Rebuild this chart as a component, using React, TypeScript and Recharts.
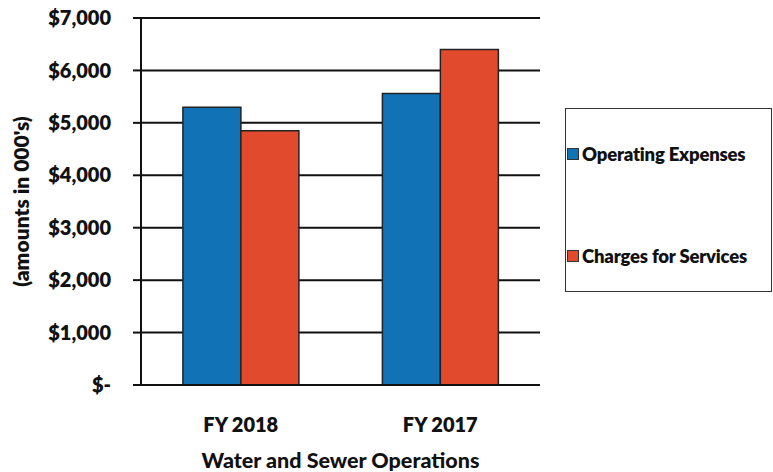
import { Bar, BarChart, CartesianGrid, XAxis, YAxis } from "recharts";

const years = ["FY 2018", "FY 2017"];
const operatingExpenses = [5300, 5560];
const chargesForServices = [4850, 6400];
const yTicks = [0, 1000, 2000, 3000, 4000, 5000, 6000, 7000];

const series = [
  { key: "ops", name: "Operating Expenses", color: "#1272b6" },
  { key: "charges", name: "Charges for Services", color: "#e24a2e" },
];

const data = years.map((year, i) => ({
  year,
  ops: operatingExpenses[i],
  charges: chargesForServices[i],
}));

const FONT = "Lato, 'Open Sans', sans-serif";

const fmt = (v: number) => (v === 0 ? "$-" : `$${v.toLocaleString("en-US")}`);

function LegendBox() {
  return (
    <div
      style={{
        position: "absolute",
        left: 565,
        top: 108,
        width: 207,
        height: 184,
        border: "1.5px solid #333",
        boxSizing: "border-box",
        fontFamily: FONT,
        fontWeight: 800,
        fontSize: 18.5,
        letterSpacing: -0.2,
        color: "#111",
      }}
    >
      {series.map((s, i) => (
        <div
          key={s.key}
          style={{
            position: "absolute",
            left: 1,
            top: i === 0 ? 34 : 136,
            display: "flex",
            alignItems: "center",
            gap: 3,
            whiteSpace: "nowrap",
          }}
        >
          <span
            style={{
              width: 10,
              height: 10,
              background: s.color,
              border: "1px solid #333",
              display: "inline-block",
            }}
          />
          <span>{s.name}</span>
        </div>
      ))}
    </div>
  );
}

export default function App() {
  return (
    <div style={{ position: "absolute", left: 0, top: 0, width: 773, height: 472, background: "#fff" }}>
      <BarChart
        width={773}
        height={472}
        data={data}
        margin={{ top: 18, right: 233, bottom: 0, left: 0 }}
        barCategoryGap="21%"
        barGap={0}
      >
        <CartesianGrid vertical={false} stroke="#111" strokeWidth={2} />
        <XAxis
          dataKey="year"
          height={87}
          axisLine={{ stroke: "#111", strokeWidth: 2 }}
          tickLine={false}
          tickMargin={27}
          tick={{ fontFamily: FONT, fontWeight: 800, fontSize: 20, fill: "#111" }}
          label={{
            value: "Water and Sewer Operations",
            position: "insideBottom",
            offset: 4,
            style: { fontFamily: FONT, fontWeight: 900, fontSize: 21.5, fill: "#111" },
          }}
        />
        <YAxis
          width={141}
          domain={[0, 7000]}
          ticks={yTicks}
          tickFormatter={fmt}
          axisLine={{ stroke: "#111", strokeWidth: 2 }}
          tickLine={{ stroke: "#111", strokeWidth: 2 }}
          tickSize={8}
          tickMargin={22}
          tick={{ fontFamily: FONT, fontWeight: 800, fontSize: 20, fill: "#111" }}
          label={{
            value: "(amounts in 000's)",
            angle: -90,
            position: "insideLeft",
            offset: 22,
            style: { textAnchor: "middle", fontFamily: FONT, fontWeight: 800, fontSize: 21, fill: "#111" },
          }}
        />
        <YAxis
          yAxisId="right"
          orientation="right"
          width={0}
          domain={[0, 7000]}
          tick={false}
          tickLine={false}
          axisLine={{ stroke: "#111", strokeWidth: 2 }}
        />
        {series.map((s) => (
          <Bar
            key={s.key}
            dataKey={s.key}
            name={s.name}
            fill={s.color}
            stroke="#222"
            strokeWidth={1.5}
            isAnimationActive={false}
          />
        ))}
      </BarChart>
      <LegendBox />
    </div>
  );
}
